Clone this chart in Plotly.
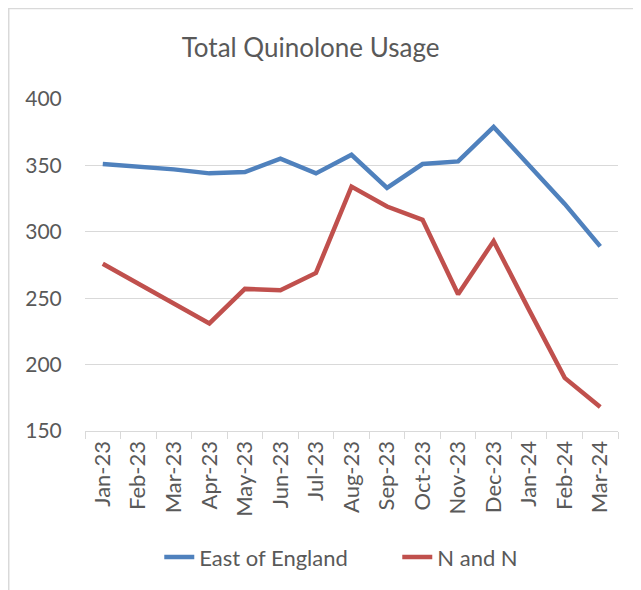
import plotly.graph_objects as go

# monthly categories
months = ["Jan-23", "Feb-23", "Mar-23", "Apr-23", "May-23", "Jun-23", "Jul-23",
          "Aug-23", "Sep-23", "Oct-23", "Nov-23", "Dec-23", "Jan-24", "Feb-24", "Mar-24"]

# values
east_of_england = [351, 349, 347, 344, 345, 355, 344, 358, 333, 351, 353, 379, 350, 321, 289]
n_and_n = [276, 261, 246, 231, 257, 256, 269, 334, 319, 309, 253, 293, 241, 190, 168]

font_family = "Lato, 'Open Sans', sans-serif"
grey_text = "#595959"
grid_col = "#d9d9d9"

fig = go.Figure()
fig.add_trace(go.Scatter(x=months, y=east_of_england, mode="lines", name="East of England",
                         line=dict(color="#4F81BD", width=4.5)))
fig.add_trace(go.Scatter(x=months, y=n_and_n, mode="lines", name="N and N",
                         line=dict(color="#C0504D", width=4.5)))

# the page body adds an 8px offset, so margins are trimmed by that much
fig.update_layout(
    width=641, height=590,
    margin=dict(l=77, r=31, t=91, b=167),
    paper_bgcolor="white", plot_bgcolor="white",
    font=dict(family=font_family, color=grey_text, size=20),
    title=dict(text="Total Quinolone Usage", x=0.472, xanchor="center", y=0.932, yanchor="middle",
               font=dict(size=26, color=grey_text)),
    showlegend=True,
    legend=dict(orientation="h", xref="container", x=0.236, xanchor="left",
                yref="container", y=0.069, yanchor="middle",
                entrywidth=193, font=dict(size=22, color=grey_text)),
)

fig.update_xaxes(
    type="category", tickangle=-90, tickson="boundaries", ticks="outside", ticklen=7,
    tickcolor=grid_col, showline=True, linecolor=grid_col, linewidth=1.3,
    showgrid=False, tickfont=dict(size=22, color=grey_text), range=[-0.5, 14.5],
)
fig.update_yaxes(
    range=[150, 400], dtick=50, showgrid=True, gridcolor=grid_col, gridwidth=1.3,
    zeroline=False, showline=False, ticks="outside", ticklen=18, tickcolor="rgba(0,0,0,0)",
    tickfont=dict(size=21, color=grey_text),
)

# chart frame lines
fig.add_shape(type="line", xref="paper", yref="paper", x0=-0.1431, x1=-0.1431, y0=-0.6, y1=1.3,
              line=dict(color=grid_col, width=1.5))
fig.add_shape(type="line", xref="paper", yref="paper", x0=-0.1431, x1=1.1, y0=1.2726, y1=1.2726,
              line=dict(color=grid_col, width=1.5))

fig.write_html("out.html")
